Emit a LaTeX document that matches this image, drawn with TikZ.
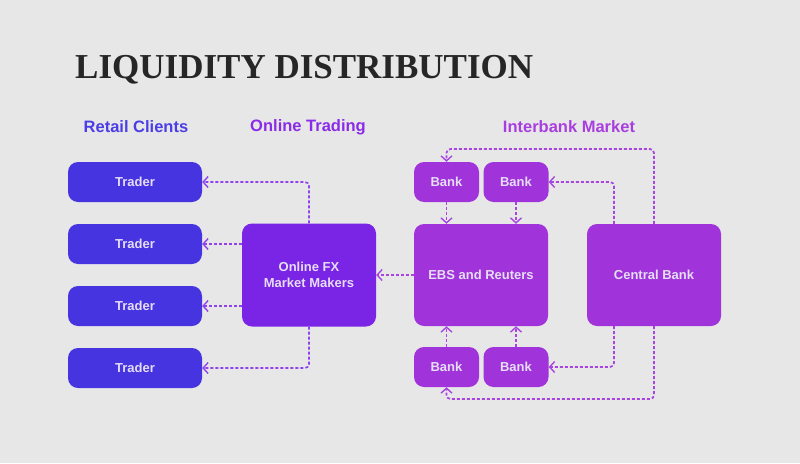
\documentclass[tikz,border=0pt]{standalone}
\usepackage{fontspec}
\setmainfont{Liberation Sans}
\newfontfamily\titlefont{Liberation Serif}
\usetikzlibrary{arrows.meta}
\definecolor{bg}{HTML}{E7E7E7}
\definecolor{tradercol}{HTML}{4634E0}
\definecolor{fxcol}{HTML}{7A24E6}
\definecolor{bankcol}{HTML}{A034DA}
\definecolor{boxtext}{HTML}{E6DDF6}
\definecolor{titlecol}{HTML}{262626}
\definecolor{hdrblue}{HTML}{4B3EE6}
\definecolor{hdrviolet}{HTML}{8A2BE8}
\definecolor{hdrmag}{HTML}{A83EE0}
\definecolor{arrviolet}{HTML}{8F42EE}
\definecolor{arrmag}{HTML}{A845E2}
\begin{document}
\begin{tikzpicture}[x=1pt,y=-1pt,
  boxbase/.style={rectangle, rounded corners=10pt, text=boxtext, font=\bfseries\fontsize{13}{15.5}\selectfont, align=center, inner sep=0pt},
  traderbox/.style={boxbase, fill=tradercol, minimum width=134pt, minimum height=40pt},
  fxbox/.style={boxbase, fill=fxcol, minimum width=134pt, minimum height=103pt},
  bigbox/.style={boxbase, fill=bankcol, minimum width=134pt, minimum height=102pt},
  bankbox/.style={boxbase, fill=bankcol, minimum width=65pt, minimum height=40pt},
  hdr/.style={font=\bfseries\fontsize{16.5}{19}\selectfont, inner sep=0pt},
  link/.style={line width=1.7pt, dash pattern=on 3pt off 2pt, rounded corners=4pt, -{Straight Barb[length=5pt,width=11pt,line width=1.4pt]}},
  linkv/.style={link, draw=arrviolet},
  linkm/.style={link, draw=arrmag}
]
\fill[bg] (0,0) rectangle (800,463);
\useasboundingbox (0,0) rectangle (800,463);

\node[anchor=base west, inner sep=0pt, text=titlecol, font=\titlefont\bfseries\fontsize{35}{40}\selectfont] (title) at (75,78) {LIQUIDITY DISTRIBUTION};

\node[hdr, text=hdrblue] (h1) at (136,127) {Retail Clients};
\node[hdr, text=hdrviolet] (h2) at (308,127) {Online Trading};
\node[hdr, text=hdrmag] (h3) at (569,127) {Interbank Market};

\node[traderbox] (t1) at (135,182) {Trader};
\node[traderbox] (t2) at (135,244) {Trader};
\node[traderbox] (t3) at (135,306) {Trader};
\node[traderbox] (t4) at (135,368) {Trader};

\node[fxbox] (fx) at (309,275) {Online FX\\Market Makers};
\node[bigbox] (ebs) at (481,275) {EBS and Reuters};
\node[bigbox] (cb) at (654,275) {Central Bank};

\node[bankbox] (b1) at (446.5,182) {Bank};
\node[bankbox] (b2) at (516,182) {Bank};
\node[bankbox] (b3) at (446.5,367) {Bank};
\node[bankbox] (b4) at (516,367) {Bank};

\coordinate (ctop) at (0,149);
\coordinate (cbot) at (0,399);

% online FX to traders
\draw[linkv] (fx.north) |- (t1);
\draw[linkv] (fx.west |- t2) -- (t2);
\draw[linkv] (fx.west |- t3) -- (t3);
\draw[linkv] (fx.south) |- (t4);

% EBS to FX
\draw[linkm] (ebs.west) -- (fx.east);

% banks to EBS
\draw[linkm] (b1) -- (b1 |- ebs.north);
\draw[linkm] (b2) -- (b2 |- ebs.north);
\draw[linkm] (b3) -- (b3 |- ebs.south);
\draw[linkm] (b4) -- (b4 |- ebs.south);

% central bank to banks
\draw[linkm] ([xshift=-40pt]cb.north) |- (b2);
\draw[linkm] (cb.north) -- (cb.north |- ctop) -| (b1.north);
\draw[linkm] ([xshift=-40pt]cb.south) |- (b4);
\draw[linkm] (cb.south) -- (cb.south |- cbot) -| (b3.south);
\end{tikzpicture}
\end{document}
